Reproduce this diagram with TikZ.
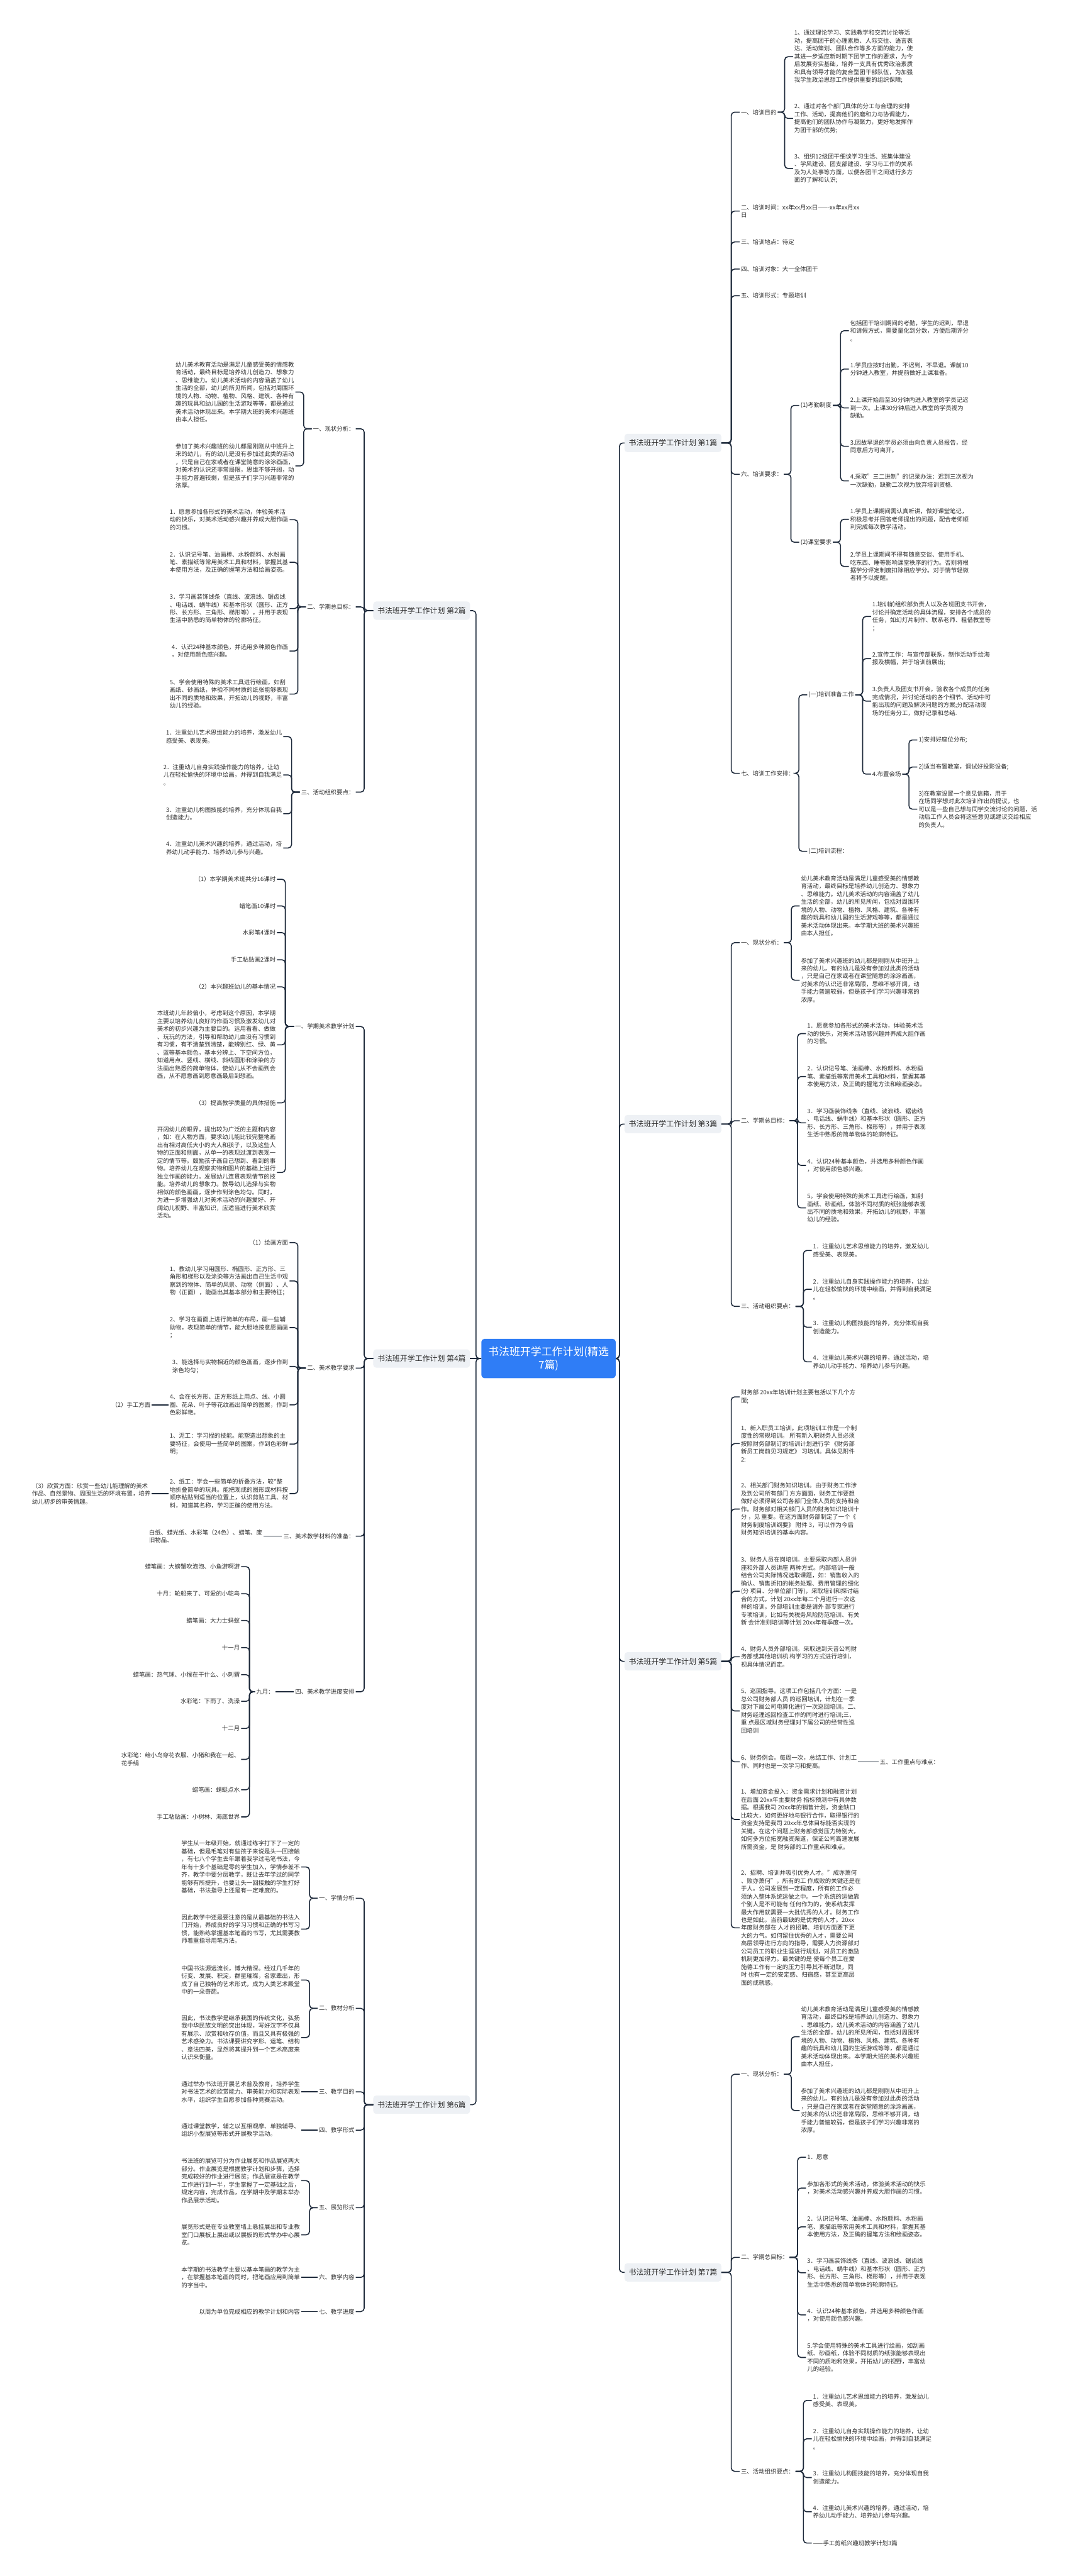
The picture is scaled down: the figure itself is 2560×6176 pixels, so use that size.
\documentclass[tikz,border=0pt]{standalone}
\usepackage{fontspec}
\setmainfont{Noto Sans CJK SC}
\definecolor{linec}{HTML}{1E2A3B}
\definecolor{txtc}{HTML}{2E2E2E}
\definecolor{rootc}{HTML}{2F7DF6}
\definecolor{brc}{HTML}{EEF1F5}
\tikzset{
  link/.style={draw=linec,line width=2.4pt,rounded corners=8pt},
  txt/.style={inner xsep=3pt,inner ysep=1pt,align=left,text=txtc,font=\fontsize{14.2}{18.8}\selectfont},
  brn/.style={fill=brc,rounded corners=7pt,inner xsep=10pt,inner ysep=0pt,minimum height=44pt,text=txtc,font=\fontsize{18}{22}\selectfont},
  rootn/.style={fill=rootc,rounded corners=7pt,text=white,align=center,minimum width=322pt,minimum height=94pt,inner sep=0pt,font=\fontsize{25.5}{32}\selectfont}
}
\newcommand{\RN}[4]{\node[txt,anchor=west] (#1) at (#2,#3) {#4};}
\newcommand{\LN}[4]{\node[txt,anchor=east] (#1) at (#2,#3) {#4};}
\newcommand{\rcon}[2]{\draw[link] (#2.west) -- ++(-20,0) |- (#1.east);}
\newcommand{\lcon}[2]{\draw[link] (#2.east) -- ++(20,0) |- (#1.west);}
\newcommand{\rdir}[2]{\draw[link] (#1.east) -- (#2.west);}
\newcommand{\ldir}[2]{\draw[link] (#1.west) -- (#2.east);}
\begin{document}
\begin{tikzpicture}[x=1pt,y=-1pt]
\fill[white] (0,0) rectangle (2560,6176);
\useasboundingbox (0,0) rectangle (2560,6176);
% root and branches
\node[rootn] (root) at (1315,3257) {书法班开学工作计划(精选\\7篇)};
\node[brn,anchor=west] (p1) at (1497,1062) {书法班开学工作计划 第1篇};
\node[brn,anchor=west] (p3) at (1497,2695) {书法班开学工作计划 第3篇};
\node[brn,anchor=west] (p5) at (1497,3983) {书法班开学工作计划 第5篇};
\node[brn,anchor=west] (p7) at (1497,5448) {书法班开学工作计划 第7篇};
\node[brn,anchor=east] (p2) at (1127,1464) {书法班开学工作计划 第2篇};
\node[brn,anchor=east] (p4) at (1127,3257) {书法班开学工作计划 第4篇};
\node[brn,anchor=east] (p6) at (1127,5046) {书法班开学工作计划 第6篇};
\foreach \p in {p1,p3,p5,p7}{\draw[link] (\p.west) -- ++(-12,0) |- (root.east);}
\foreach \p in {p2,p6}{\draw[link] (\p.east) -- ++(14,0) |- (root.west);}
\draw[link] (root.west) -- (p4.east);
% ===== 第1篇 =====
\RN{a1}{1773}{269}{一、培训目的}
\RN{a2}{1773}{506}{二、培训时间：xx年xx月xx日——-xx年xx月xx\\日}
\RN{a3}{1773}{580}{三、培训地点：待定}
\RN{a4}{1773}{645}{四、培训对象：大一全体团干}
\RN{a5}{1773}{709}{五、培训形式：专题培训}
\RN{a6}{1773}{1137}{六、培训要求：}
\RN{a7}{1773}{1854}{七、培训工作安排：}
\foreach \c in {a1,a2,a3,a4,a5,a6,a7}{\rcon{p1}{\c}}
\RN{a11}{1901}{136}{1、通过理论学习、实践教学和交流讨论等活\\动，提高团干的心理素质、人际交往、语言表\\达、活动策划、团队合作等多方面的能力，使\\其进一步适应新时期下团学工作的要求，为今\\后发展夯实基础，培养一支具有优秀政治素质\\和具有领导才能的复合型团干部队伍，为加强\\我学生政治思想工作提供重要的组织保障;}
\RN{a12}{1901}{284}{2、通过对各个部门具体的分工与合理的安排\\工作、活动，提高他们的磨和力与协调能力，\\提高他们的团队协作与凝聚力，更好地发挥作\\为团干部的优势;}
\RN{a13}{1901}{404}{3、组织12级团干细谈学习生活、班集体建设\\、学风建设、团支部建设、学习与工作的关系\\及为人处事等方面，以便各团干之间进行多方\\面的了解和认识;}
\foreach \c in {a11,a12,a13}{\rcon{a1}{\c}}
\RN{a61}{1916}{972}{(1)考勤制度}
\RN{a62}{1916}{1300}{(2)课堂要求}
\rcon{a6}{a61}\rcon{a6}{a62}
\RN{a611}{2035}{793}{包括团干培训期间的考勤，学生的迟到，早退\\和请假方式，需要量化到分数，方便后期评分\\。}
\RN{a612}{2035}{885}{1.学员应按时出勤，不迟到，不早退。课前10\\分钟进入教室，并提前做好上课准备。}
\RN{a613}{2035}{978}{2.上课开始后至30分钟内进入教室的学员记迟\\到一次。上课30分钟后进入教室的学员视为\\缺勤。}
\RN{a614}{2035}{1070}{3.因故早退的学员必须由向负责人员报告，经\\同意后方可离开。}
\RN{a615}{2035}{1153}{4.采取"三二进制"的记录办法：迟到三次视为\\一次缺勤，缺勤二次视为放弃培训资格.}
\foreach \c in {a611,a612,a613,a614,a615}{\rcon{a61}{\c}}
\RN{a621}{2035}{1245}{1.学员上课期间需认真听讲，做好课堂笔记，\\积极思考并回答老师提出的问题，配合老师顺\\利完成每次教学活动。}
\RN{a622}{2035}{1358}{2.学员上课期间不得有随意交谈、使用手机、\\吃东西、睡等影响课堂秩序的行为。否则将根\\据学分评定制度扣除相应学分。对于情节轻微\\者将予以提醒。}
\rcon{a62}{a621}\rcon{a62}{a622}
\RN{a71}{1935}{1666}{(一)培训准备工作}
\RN{a72}{1935}{2041}{(二)培训流程：}
\rcon{a7}{a71}\rcon{a7}{a72}
\RN{a711}{2088}{1478}{1.培训前组织部负责人以及各班团支书开会，\\讨论并确定活动的具体流程，安排各个成员的\\任务，如幻灯片制作、联系老师、租借教室等\\；}
\RN{a712}{2088}{1579}{2.宣传工作：与宣传部联系，制作活动手绘海\\报及横幅，并于培训前展出;}
\RN{a713}{2088}{1681}{3.负责人及团支书开会，验收各个成员的任务\\完成情况，并讨论活动的各个细节、活动中可\\能出现的问题及解决问题的方案;分配活动现\\场的任务分工，做好记录和总结.}
\RN{a714}{2088}{1856}{4.布置会场}
\foreach \c in {a711,a712,a713,a714}{\rcon{a71}{\c}}
\RN{a7141}{2199}{1774}{1)安排好座位分布;}
\RN{a7142}{2199}{1839}{2)适当布置教室，调试好投影设备;}
\RN{a7143}{2199}{1940}{3)在教室设置一个意见信箱，用于\\在场同学想对此次培训作出的提议，也\\可以是一些自己想与同学交流讨论的问题，活\\动后工作人员会将这些意见或建议交给相应\\的负责人。}
\foreach \c in {a7141,a7142,a7143}{\rcon{a714}{\c}}
% ===== 第3篇 =====
\RN{c1}{1773}{2260}{一、现状分析：}
\RN{c2}{1773}{2687}{二、学期总目标：}
\RN{c3}{1773}{3132}{三、活动组织要点：}
\foreach \c in {c1,c2,c3}{\rcon{p3}{\c}}
\RN{c11}{1917}{2172}{幼儿美术教育活动是满足儿童感受美的情感教\\育活动，最终目标是培养幼儿创造力、想象力\\、思维能力。幼儿美术活动的内容涵盖了幼儿\\生活的全部，幼儿的所见所闻，包括对周围环\\境的人物、动物、植物、风格、建筑、各种有\\趣的玩具和幼儿园的生活游戏等等，都是通过\\美术活动体现出来。本学期大班的美术兴趣班\\由本人担任。}
\RN{c12}{1917}{2350}{参加了美术兴趣班的幼儿都是刚刚从中班升上\\来的幼儿，有的幼儿是没有参加过此类的活动\\，只是自己在家或者在课堂随意的涂涂画画，\\对美术的认识还非常局限，思维不够开阔，动\\手能力普遍较弱，但是孩子们学习兴趣非常的\\浓厚。}
\rcon{c1}{c11}\rcon{c1}{c12}
\RN{c21}{1932}{2478}{1．愿意参加各形式的美术活动，体验美术活\\动的快乐，对美术活动感兴趣并养成大胆作画\\的习惯。}
\RN{c22}{1932}{2581}{2．认识记号笔、油画棒、水粉颜料、水粉画\\笔、素描纸等常用美术工具和材料，掌握其基\\本使用方法，及正确的握笔方法和绘画姿态。}
\RN{c23}{1932}{2692}{3．学习画装饰线条（直线、波浪线、锯齿线\\、电话线、蜗牛线）和基本形状（圆形、正方\\形、长方形、三角形、梯形等），并用于表现\\生活中熟悉的简单物体的轮廓特征。}
\RN{c24}{1932}{2794}{4．认识24种基本颜色，并选用多种颜色作画\\，对使用颜色感兴趣。}
\RN{c25}{1932}{2896}{5。学会使用特殊的美术工具进行绘画，如刮\\画纸、砂画纸，体验不同材质的纸张能够表现\\出不同的质地和效果，开拓幼儿的视野，丰富\\幼儿的经验。}
\foreach \c in {c21,c22,c23,c24,c25}{\rcon{c2}{\c}}
\RN{c31}{1946}{2998}{1．注重幼儿艺术思维能力的培养，激发幼儿\\感受美、表现美。}
\RN{c32}{1946}{3091}{2．注重幼儿自身实践操作能力的培养，让幼\\儿在轻松愉快的环境中绘画，并得到自我满足\\。}
\RN{c33}{1946}{3182}{3．注重幼儿构图技能的培养，充分体现自我\\创造能力。}
\RN{c34}{1946}{3265}{4．注重幼儿美术兴趣的培养，通过活动，培\\养幼儿动手能力、培养幼儿参与兴趣。}
\foreach \c in {c31,c32,c33,c34}{\rcon{c3}{\c}}
% ===== 第5篇 =====
\RN{e1}{1773}{3349}{财务部 20xx年培训计划主要包括以下几个方\\面;}
\RN{e2}{1773}{3461}{1、新入职员工培训。此项培训工作是一个制\\度性的常规培训。 所有新入职财务人员必须\\按照财务部制订的培训计划进行学 《财务部\\新员工岗前见习规定》 习培训。具体见附件\\2:}
\RN{e3}{1773}{3618}{2、相关部门财务知识培训。由于财务工作涉\\及到公司所有部门 方方面面，财务工作要想\\做好必须得到公司各部门全体人员的支持和合\\作。财务部对相关部门人员的财务知识培训十\\分 ，见 重要。在这方面财务部制定了一个《\\财务制度培训纲要》 附件 3，可以作为今后\\财务知识培训的基本内容。}
\RN{e4}{1773}{3815}{3、财务人员在岗培训。主要采取内部人员讲\\座和外部人员讲座 两种方式。内部培训一般\\结合公司实际情况选取课题，如：销售收入的\\确认、销售折扣的帐务处理、费用管理的细化\\(分 项目、分单位部门等)，采取培训和探讨结\\合的方式，计划 20xx年每二个月进行一次这\\样的培训。外部培训主要是请外 部专家进行\\专项培训，比如有关税务风险防范培训、有关\\新 会计准则培训等计划 20xx年每季度一次。}
\RN{e5}{1773}{3972}{4、财务人员外部培训。采取送到天音公司财\\务部或其他培训机 构学习的方式进行培训，\\视具体情况而定。}
\RN{e6}{1773}{4102}{5、巡回指导。这项工作包括几个方面：一是\\总公司财务部人员 的巡回培训，计划在一季\\度对下属公司电算化进行一次巡回培训。二、\\财务经理巡回检查工作的同时进行培训;三、\\重 点是区域财务经理对下属公司的经常性巡\\回培训}
\RN{e7}{1773}{4224}{6、财务例会。每周一次，总结工作、计划工\\作、同时也是一次学习和提高。}
\RN{e8}{1773}{4362}{1、增加资金投入：资金需求计划和融资计划\\在后面 20xx年主要财务 指标预测中有具体数\\据。根据我司 20xx年的销售计划，资金缺口\\比较大，如何更好地与银行合作，取得银行的\\资金支持是我司 20xx年总体目标能否实现的\\关键。在这个问题上财务部感觉压力特别大，\\如何多方位拓宽融资渠道，保证公司高速发展\\所需资金，是 财务部的工作重点和难点。}
\RN{e9}{1773}{4622}{2、招聘、培训并吸引优秀人才。"成亦萧何\\、败亦萧何"，所有的工 作成败的关键还是在\\于人。公司发展到一定程度，所有的工作必\\须纳入整体系统运做之中。一个系统的运做靠\\个别人是不可能有 任何作为的，使系统发挥\\最大作用就需要一大批优秀的人才。财务工作\\也是如此，当前最缺的是优秀的人才。20xx\\年度财务部在 人才的招聘、培训方面要下更\\大的力气。如何留住优秀的人才，需要公司\\高层领导进行方向的指导，需要人力资源部对\\公司员工的职业生涯进行规划，对员工的激励\\机制更加得力。最关键的是 使每个员工在爱\\施德工作有一定的压力引导其不断进取，同\\时 也有一定的安定感、归宿感，甚至更高层\\面的成就感。}
\foreach \c in {e1,e2,e3,e4,e5,e6,e7,e8,e9}{\rcon{p5}{\c}}
\RN{e7x}{2106}{4224}{五、工作重点与难点：}
\rdir{e7}{e7x}
% ===== 第7篇 =====
\RN{g1}{1773}{4973}{一、现状分析：}
\RN{g2}{1773}{5412}{二、学期总目标：}
\RN{g3}{1773}{5925}{三、活动组织要点：}
\foreach \c in {g1,g2,g3}{\rcon{p7}{\c}}
\RN{g11}{1917}{4883}{幼儿美术教育活动是满足儿童感受美的情感教\\育活动，最终目标是培养幼儿创造力、想象力\\、思维能力。幼儿美术活动的内容涵盖了幼儿\\生活的全部，幼儿的所见所闻，包括对周围环\\境的人物、动物、植物、风格、建筑、各种有\\趣的玩具和幼儿园的生活游戏等等，都是通过\\美术活动体现出来。本学期大班的美术兴趣班\\由本人担任。}
\RN{g12}{1917}{5060}{参加了美术兴趣班的幼儿都是刚刚从中班升上\\来的幼儿，有的幼儿是没有参加过此类的活动\\，只是自己在家或者在课堂随意的涂涂画画，\\对美术的认识还非常局限，思维不够开阔，动\\手能力普遍较弱，但是孩子们学习兴趣非常的\\浓厚。}
\rcon{g1}{g11}\rcon{g1}{g12}
\RN{g21}{1932}{5172}{1．愿意}
\RN{g22}{1932}{5246}{参加各形式的美术活动，体验美术活动的快乐\\，对美术活动感兴趣并养成大胆作画的习惯。}
\RN{g23}{1932}{5339}{2．认识记号笔、油画棒、水粉颜料、水粉画\\笔、素描纸等常用美术工具和材料，掌握其基\\本使用方法，及正确的握笔方法和绘画姿态。}
\RN{g24}{1932}{5449}{3．学习画装饰线条（直线、波浪线、锯齿线\\、电话线、蜗牛线）和基本形状（圆形、正方\\形、长方形、三角形、梯形等），并用于表现\\生活中熟悉的简单物体的轮廓特征。}
\RN{g25}{1932}{5550}{4．认识24种基本颜色，并选用多种颜色作画\\，对使用颜色感兴趣。}
\RN{g26}{1932}{5652}{5.学会使用特殊的美术工具进行绘画，如刮画\\纸、砂画纸，体验不同材质的纸张能够表现出\\不同的质地和效果，开拓幼儿的视野，丰富幼\\儿的经验。}
\foreach \c in {g21,g22,g23,g24,g25,g26}{\rcon{g2}{\c}}
\RN{g31}{1946}{5755}{1．注重幼儿艺术思维能力的培养，激发幼儿\\感受美、表现美。}
\RN{g32}{1946}{5847}{2．注重幼儿自身实践操作能力的培养，让幼\\儿在轻松愉快的环境中绘画，并得到自我满足\\。}
\RN{g33}{1946}{5940}{3．注重幼儿构图技能的培养，充分体现自我\\创造能力。}
\RN{g34}{1946}{6022}{4．注重幼儿美术兴趣的培养，通过活动，培\\养幼儿动手能力、培养幼儿参与兴趣。}
\RN{g35}{1946}{6097}{——手工剪纸兴趣班教学计划3篇}
\foreach \c in {g31,g32,g33,g34,g35}{\rcon{g3}{\c}}
% ===== 第2篇 =====
\LN{b1}{853}{1028}{一、现状分析：}
\LN{b2}{853}{1455}{二、学期总目标：}
\LN{b3}{853}{1899}{三、活动组织要点：}
\foreach \c in {b1,b2,b3}{\lcon{p2}{\c}}
\LN{b11}{708}{940}{幼儿美术教育活动是满足儿童感受美的情感教\\育活动，最终目标是培养幼儿创造力、想象力\\、思维能力。幼儿美术活动的内容涵盖了幼儿\\生活的全部，幼儿的所见所闻，包括对周围环\\境的人物、动物、植物、风格、建筑、各种有\\趣的玩具和幼儿园的生活游戏等等，都是通过\\美术活动体现出来。本学期大班的美术兴趣班\\由本人担任。}
\LN{b12}{708}{1117}{参加了美术兴趣班的幼儿都是刚刚从中班升上\\来的幼儿，有的幼儿是没有参加过此类的活动\\，只是自己在家或者在课堂随意的涂涂画画，\\对美术的认识还非常局限，思维不够开阔，动\\手能力普遍较弱，但是孩子们学习兴趣非常的\\浓厚。}
\lcon{b1}{b11}\lcon{b1}{b12}
\LN{b21}{694}{1246}{1．愿意参加各形式的美术活动，体验美术活\\动的快乐，对美术活动感兴趣并养成大胆作画\\的习惯。}
\LN{b22}{694}{1348}{2．认识记号笔、油画棒、水粉颜料、水粉画\\笔、素描纸等常用美术工具和材料，掌握其基\\本使用方法，及正确的握笔方法和绘画姿态。}
\LN{b23}{694}{1459}{3．学习画装饰线条（直线、波浪线、锯齿线\\、电话线、蜗牛线）和基本形状（圆形、正方\\形、长方形、三角形、梯形等），并用于表现\\生活中熟悉的简单物体的轮廓特征。}
\LN{b24}{694}{1561}{4．认识24种基本颜色，并选用多种颜色作画\\，对使用颜色感兴趣。}
\LN{b25}{694}{1664}{5、学会使用特殊的美术工具进行绘画，如刮\\画纸、砂画纸，体验不同材质的纸张能够表现\\出不同的质地和效果，开拓幼儿的视野，丰富\\幼儿的经验。}
\foreach \c in {b21,b22,b23,b24,b25}{\lcon{b2}{\c}}
\LN{b31}{679}{1766}{1．注重幼儿艺术思维能力的培养，激发幼儿\\感受美、表现美。}
\LN{b32}{679}{1858}{2．注重幼儿自身实践操作能力的培养，让幼\\儿在轻松愉快的环境中绘画，并得到自我满足\\。}
\LN{b33}{679}{1951}{3．注重幼儿构图技能的培养，充分体现自我\\创造能力。}
\LN{b34}{679}{2033}{4．注重幼儿美术兴趣的培养，通过活动，培\\养幼儿动手能力、培养幼儿参与兴趣。}
\foreach \c in {b31,b32,b33,b34}{\lcon{b3}{\c}}
% ===== 第4篇 =====
\LN{d1}{853}{2461}{一、学期美术教学计划}
\LN{d2}{853}{3280}{二、美术教学要求}
\LN{d3}{853}{3683}{三、美术教学材料的准备：}
\LN{d4}{853}{4056}{四、美术教学进度安排}
\foreach \c in {d1,d2,d3,d4}{\lcon{p4}{\c}}
\LN{d11}{664}{2108}{（1）本学期美术班共分16课时}
\LN{d12}{664}{2172}{蜡笔画10课时}
\LN{d13}{664}{2236}{水彩笔4课时}
\LN{d14}{664}{2301}{手工粘贴画2课时}
\LN{d15}{664}{2366}{（2）本兴趣班幼儿的基本情况}
\LN{d16}{664}{2505}{本班幼儿年龄偏小，考虑到这个原因，本学期\\主要以培养幼儿良好的作画习惯及激发幼儿对\\美术的初步兴趣为主要目的。运用看看、做做\\、玩玩的方法，引导和帮助幼儿由没有习惯到\\有习惯，有不清楚到清楚，能辨别红、绿、黄\\、蓝等基本颜色，基本分辨上、下空间方位，\\知道用点、竖线、横线、斜线圆形和涂染的方\\法画出熟悉的简单物体，使幼儿从不会画到会\\画，从不愿意画到愿意画最后到想画。}
\LN{d17}{664}{2644}{（3）提高教学质量的具体措施}
\LN{d18}{664}{2811}{开阔幼儿的眼界，提出较为广泛的主题和内容\\，如：在人物方面，要求幼儿能比较完整地画\\出有相对高低大小的大人和孩子，以及这些人\\物的正面和侧面，从单一的表现过渡到表现一\\定的情节等。鼓励孩子画自己想到、看到的事\\物。培养幼儿在观察实物和图片的基础上进行\\独立作画的能力。发展幼儿连贯表现情节的技\\能。培养幼儿的想象力。教导幼儿选择与实物\\相似的颜色画画，逐步作到涂色均匀。同时，\\为进一步增强幼儿对美术活动的兴趣爱好、开\\阔幼儿视野、丰富知识，应适当进行美术欣赏\\活动。}
\foreach \c in {d11,d12,d13,d14,d15,d16,d17,d18}{\lcon{d1}{\c}}
\LN{d21}{694}{2979}{（1）绘画方面}
\LN{d22}{694}{3071}{1、教幼儿学习用圆形、椭圆形、正方形、三\\角形和梯形以及涂染等方法画出自己生活中观\\察到的物体、简单的风景、动物（侧面）、人\\物（正面），能画出其基本部分和主要特征；}
\LN{d23}{694}{3183}{2、学习在画面上进行简单的布局，画一些辅\\助物，表现简单的情节，能大胆地按意愿画画\\；}
\LN{d24}{694}{3276}{3、能选择与实物相近的颜色画画，逐步作到\\涂色均匀；}
\LN{d25}{694}{3368}{4、会在长方形、正方形纸上用点、线、小圆\\圈、花朵、叶子等花纹画出简单的图案，作到\\色彩鲜艳。}
\LN{d26}{694}{3462}{1、泥工：学习捏的技能。能塑造出想象的主\\要特征，会使用一些简单的图案，作到色彩鲜\\明；}
\LN{d27}{694}{3581}{2、纸工：学会一些简单的折叠方法，较*整\\地折叠简单的玩具。能把现成的图形或材料按\\顺序粘贴到适当的位置上，认识剪贴工具、材\\料，知道其名称，学习正确的使用方法。}
\foreach \c in {d21,d22,d23,d24,d25,d26,d27}{\lcon{d2}{\c}}
\LN{d25x}{364}{3368}{（2）手工方面}
\ldir{d25}{d25x}
\LN{d27x}{364}{3581}{（3）欣赏方面：欣赏一些幼儿能理解的美术\\作品、自然景物、周围生活的环境布置，培养\\幼儿初步的审美情趣。}
\ldir{d27}{d27x}
\LN{d31}{632}{3683}{白纸、蜡光纸、水彩笔（24色）、蜡笔、废\\旧物品、}
\ldir{d3}{d31}
\LN{d41}{660}{4056}{九月：}
\ldir{d4}{d41}
\LN{d411}{578}{3756}{蜡笔画：大螃蟹吹泡泡、小鱼游啊游}
\LN{d412}{578}{3821}{十月：轮船来了、可爱的小鸵鸟}
\LN{d413}{578}{3885}{蜡笔画：大力士蚂蚁}
\LN{d414}{578}{3950}{十一月}
\LN{d415}{578}{4015}{蜡笔画：热气球、小猴在干什么、小刺猬}
\LN{d416}{578}{4079}{水彩笔：下雨了、洗澡}
\LN{d417}{578}{4144}{十二月}
\LN{d418}{578}{4218}{水彩笔：给小鸟穿花衣服、小猪和我在一起、\\花手绢}
\LN{d419}{578}{4291}{蜡笔画：蜻蜓点水}
\LN{d4110}{578}{4356}{手工粘贴画：小树林、海底世界}
\foreach \c in {d411,d412,d413,d414,d415,d416,d417,d418,d419,d4110}{\lcon{d41}{\c}}
% ===== 第6篇 =====
\LN{f1}{853}{4551}{一、学情分析}
\LN{f2}{853}{4815}{二、教材分析}
\LN{f3}{853}{5015}{三、教学目的}
\LN{f4}{853}{5107}{四、教学形式}
\LN{f5}{853}{5293}{五、展览形式}
\LN{f6}{853}{5460}{六、教学内容}
\LN{f7}{853}{5542}{七、教学进度}
\foreach \c in {f1,f2,f3,f4,f5,f6,f7}{\lcon{p6}{\c}}
\LN{f11}{722}{4476}{学生从一年级开始，就通过练字打下了一定的\\基础，但是毛笔对有些孩子来说是头一回接触\\，有七八个学生去年跟着我学过毛笔书法，今\\年有十多个基础是零的学生加入，学情参差不\\齐，教学中要分层教学，既让去年学过的同学\\能够有所提升，也要让头一回接触的学生打好\\基础，书法指导上还是有一定难度的。}
\LN{f12}{722}{4625}{因此教学中还是要注意的是从最基础的书法入\\门开始，养成良好的学习习惯和正确的书写习\\惯，能熟练掌握基本笔画的书写，尤其需要教\\师着重指导用笔方法。}
\lcon{f1}{f11}\lcon{f1}{f12}
\LN{f21}{722}{4747}{中国书法源远流长，博大精深。经过几千年的\\衍变、发展、积淀，群星璀璨，名家辈出，形\\成了自己独特的艺术形式，成为人类艺术殿堂\\中的一朵奇葩。}
\LN{f22}{722}{4885}{因此，书法教学是继承我国的传统文化，弘扬\\我中华民族文明的突出体现，写好汉字不仅具\\有展示、欣赏和收存价值，而且又具有极强的\\艺术感染力。书法课要讲究字形、运笔、结构\\、章法四美，显然将其提升到一个艺术高度来\\认识来衡量。}
\lcon{f2}{f21}\lcon{f2}{f22}
\LN{f31}{722}{5015}{通过举办书法班开展艺术普及教育，培养学生\\对书法艺术的欣赏能力、审美能力和实际表现\\水平，组织学生自愿参加各种竞赛活动。}
\ldir{f3}{f31}
\LN{f41}{722}{5107}{通过课堂教学，辅之以互相观摩、单独辅导、\\组织小型展览等形式开展教学活动。}
\ldir{f4}{f41}
\LN{f51}{722}{5228}{书法班的展览可分为作业展览和作品展览两大\\部分。作业展览是根据教学计划和步骤，选择\\完成较好的作业进行展览；作品展览是在教学\\工作进行到一半，学生掌握了一定基础之后，\\规定内容，完成作品，在学期中及学期末举办\\作品展示活动。}
\LN{f52}{722}{5358}{展览形式是在专业教室墙上悬挂展出和专业教\\室门口展板上展出或以展板的形式举办中心展\\览。}
\lcon{f5}{f51}\lcon{f5}{f52}
\LN{f61}{722}{5460}{本学期的书法教学主要以基本笔画的教学为主\\，在掌握基本笔画的同时，把笔画应用到简单\\的字当中。}
\ldir{f6}{f61}
\LN{f71}{722}{5542}{以周为单位完成相应的教学计划和内容}
\ldir{f7}{f71}
\end{tikzpicture}
\end{document}
